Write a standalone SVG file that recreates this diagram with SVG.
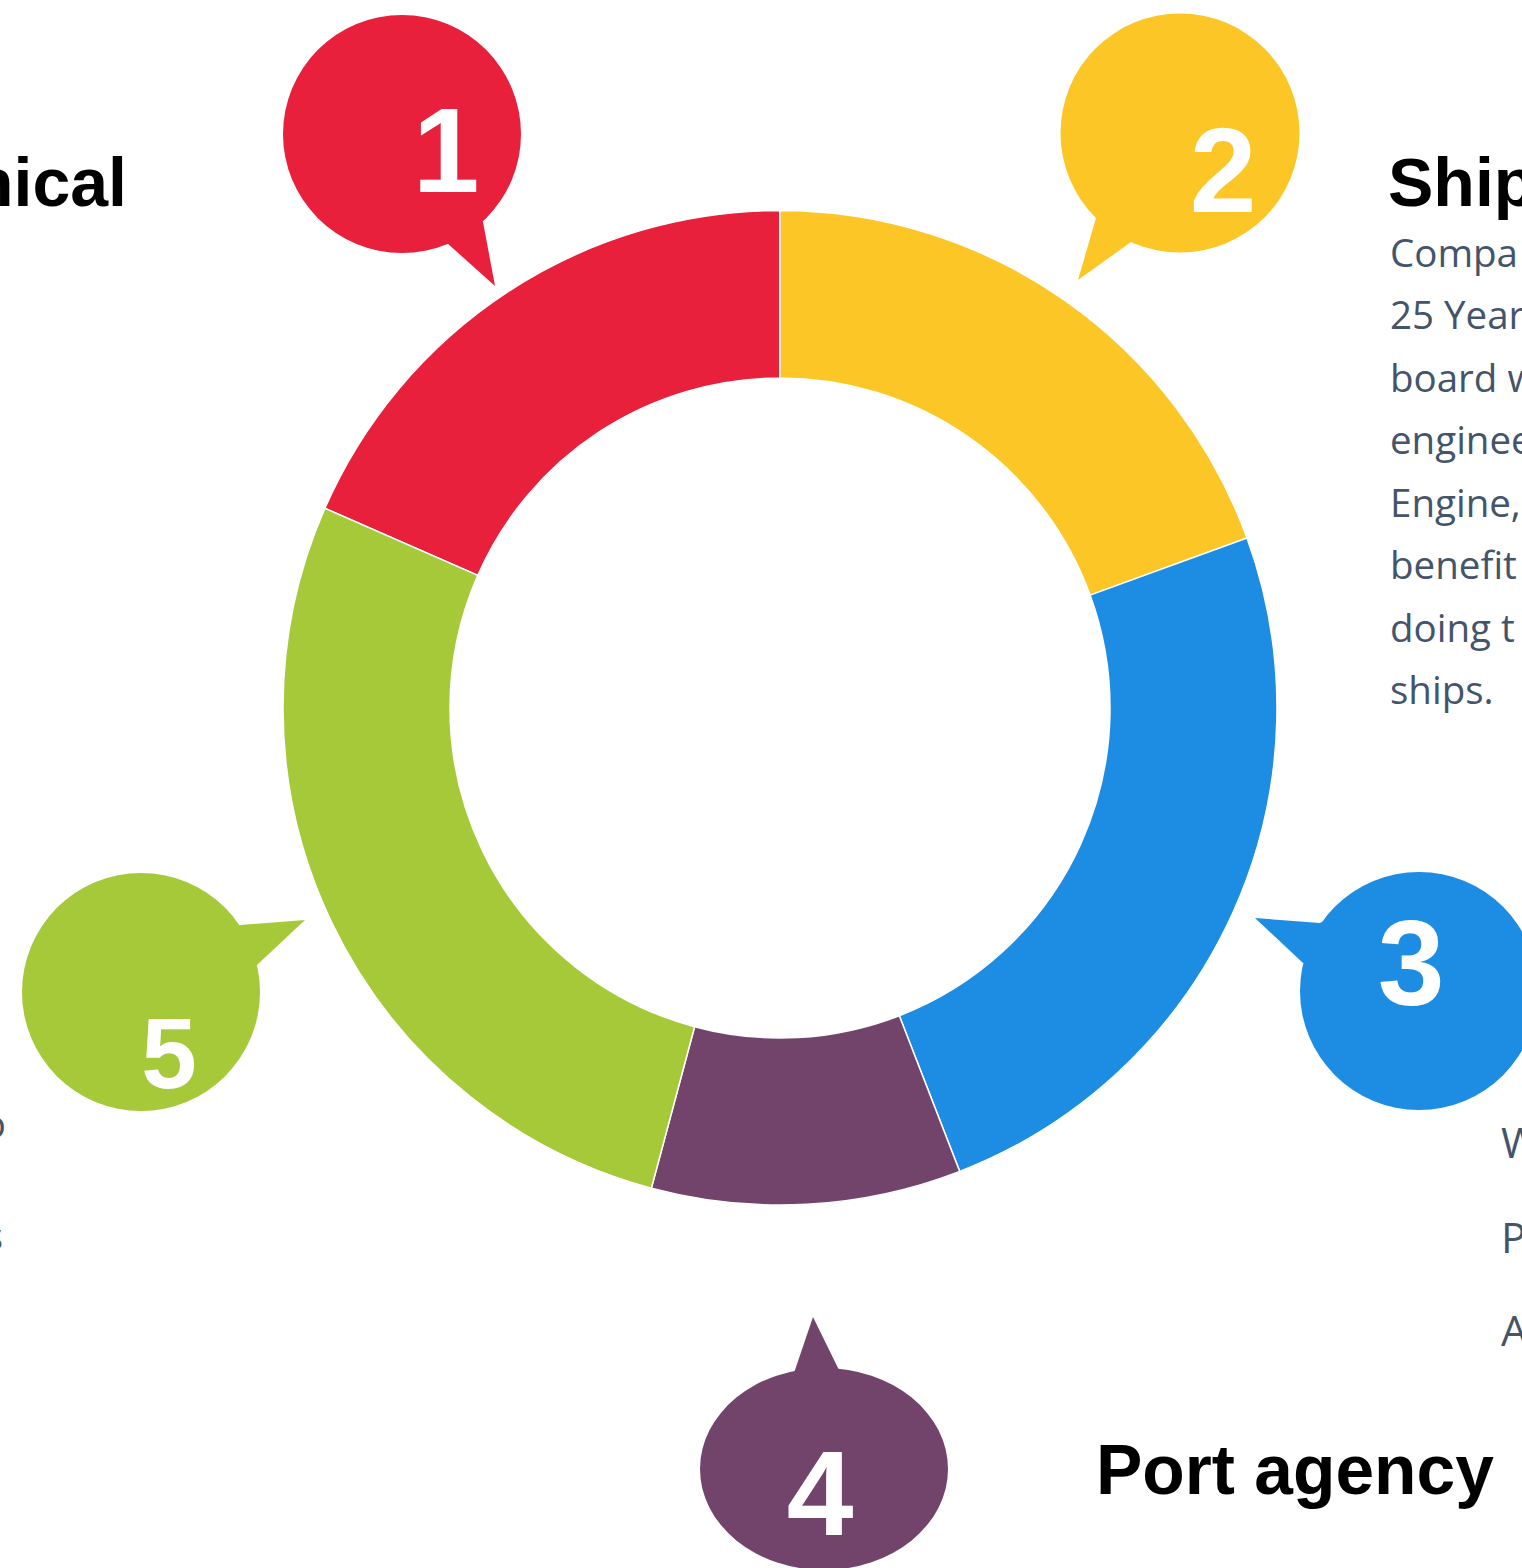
<svg xmlns="http://www.w3.org/2000/svg" width="1522" height="1568" viewBox="0 0 1522 1568">
<style>
.seg{stroke:#fff;stroke-width:1.5}
.num{font-family:"Liberation Sans",Arial,sans-serif;font-weight:bold;fill:#fff;text-anchor:middle}
.title{font-family:"Liberation Sans",Arial,sans-serif;font-weight:bold;fill:#000;font-size:68px}
.body{font-family:"Open Sans","Noto Sans",sans-serif;fill:#44546A;font-size:38.5px}
</style>
<rect width="1522" height="1568" fill="#fff"/>
<g id="ring">
<path id="seg1" class="seg" fill="#E8203C" d="M 324.9 508.3 A 497 497 0 0 1 780 210.5 L 780 378 A 330 330 0 0 0 477.8 575.4 Z"/>
<path id="seg2" class="seg" fill="#FCC627" d="M 780 210.5 A 497 497 0 0 1 1247 538 L 1090.1 595.1 A 330 330 0 0 0 780 378 Z"/>
<path id="seg3" class="seg" fill="#1D8DE3" d="M 1247 538 A 497 497 0 0 1 959.7 1171.4 L 899.3 1015.7 A 330 330 0 0 0 1090.1 595.1 Z"/>
<path id="seg4" class="seg" fill="#72446B" d="M 959.7 1171.4 A 497 497 0 0 1 651.4 1188.1 L 694.6 1026.7 A 330 330 0 0 0 899.3 1015.7 Z"/>
<path id="seg5" class="seg" fill="#A5C938" d="M 651.4 1188.1 A 497 497 0 0 1 324.9 508.3 L 477.8 575.4 A 330 330 0 0 0 694.6 1026.7 Z"/>
</g>
<g id="bubble1" fill="#E8203C">
<circle cx="402" cy="134" r="119"/>
<polygon points="440,225 447,243 495,286 483,222 470,210"/>
<text class="num" x="446" y="192" font-size="120">1</text>
</g>
<g id="bubble2" fill="#FCC627">
<circle cx="1180" cy="133" r="119.5"/>
<polygon points="1110,200 1096,218 1078,280 1131,242 1140,225"/>
<text class="num" x="1223" y="212" font-size="120">2</text>
</g>
<g id="bubble3" fill="#1D8DE3">
<circle cx="1419" cy="991" r="119"/>
<polygon points="1335,915 1320,923 1255,918 1303,963 1320,960"/>
<text class="num" x="1411" y="1005" font-size="120">3</text>
</g>
<g id="bubble4" fill="#72446B">
<ellipse cx="824" cy="1469" rx="124" ry="101"/>
<polygon points="790,1380 795,1370 813,1317 838,1368 845,1380"/>
<text class="num" x="820" y="1535" font-size="120">4</text>
</g>
<g id="bubble5" fill="#A5C938">
<circle cx="141" cy="992" r="119"/>
<polygon points="225,935 240,925 305,920 257,965 245,965"/>
<text class="num" x="169" y="1088" font-size="100">5</text>
</g>
<g id="label1">
<text class="title" x="127" y="206" text-anchor="end">nical</text>
</g>
<g id="label2">
<text class="title" x="1388" y="206">Ship</text>
<g class="body">
<text x="1390" y="267">Compa</text>
<text x="1390" y="329">25 Year</text>
<text x="1390" y="392">board w</text>
<text x="1390" y="454">enginee</text>
<text x="1390" y="517">Engine,</text>
<text x="1390" y="579">benefit</text>
<text x="1390" y="642">doing t</text>
<text x="1390" y="704">ships.</text>
</g>
</g>
<g id="label3" class="body" style="font-size:42px">
<text x="1501" y="1158">W</text>
<text x="1501" y="1253">P</text>
<text x="1501" y="1346">A</text>
</g>
<g id="label4">
<text class="title" x="1096" y="1494" style="font-size:69.5px">Port agency</text>
</g>
<g id="label5" class="body">
<text x="6" y="1138" text-anchor="end">o</text>
<text x="3" y="1250" text-anchor="end">s</text>
</g>
</svg>
